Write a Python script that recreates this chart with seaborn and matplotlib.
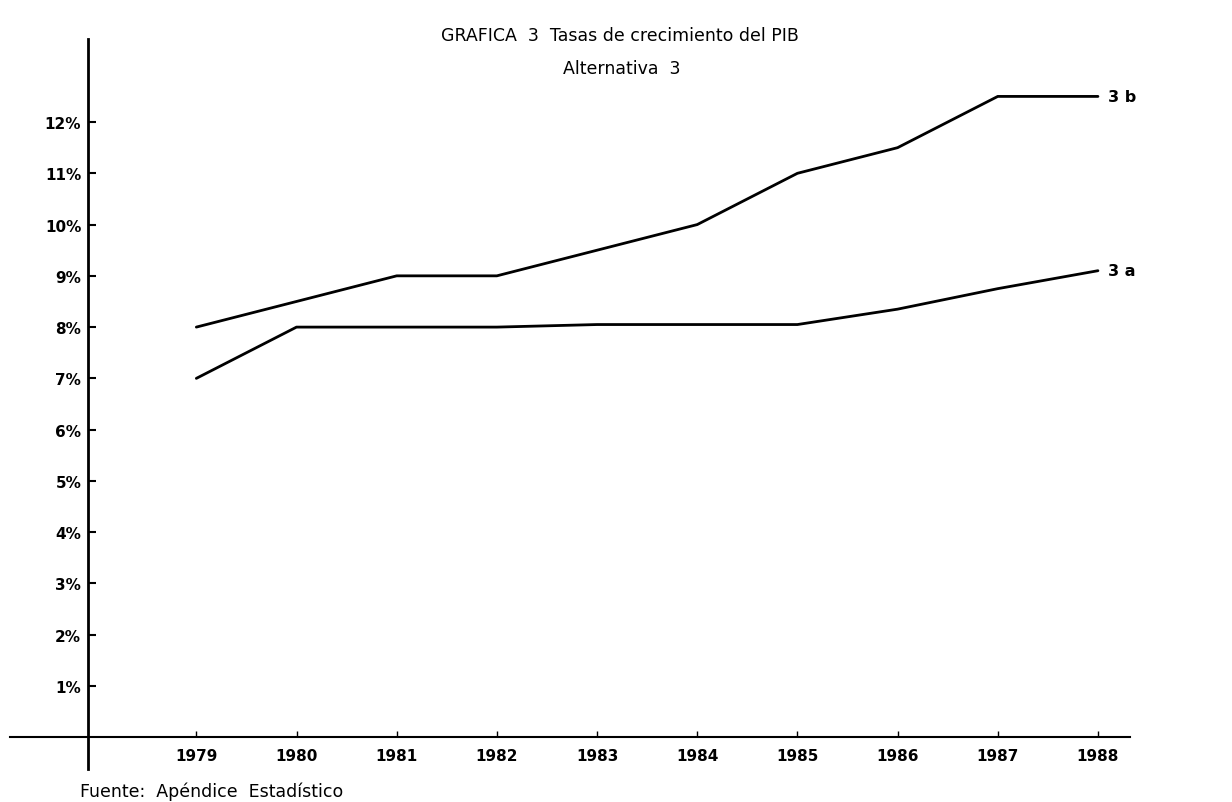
import matplotlib
matplotlib.use("Agg")
import matplotlib.pyplot as plt
import seaborn as sns
import pandas as pd

# datos
anios = [1979, 1980, 1981, 1982, 1983, 1984, 1985, 1986, 1987, 1988]
alt_3b = [8.0, 8.5, 9.0, 9.0, 9.5, 10.0, 11.0, 11.5, 12.5, 12.5]
alt_3a = [7.0, 8.0, 8.0, 8.0, 8.05, 8.05, 8.05, 8.35, 8.75, 9.1]
etiquetas_y = ["1%", "2%", "3%", "4%", "5%", "6%", "7%", "8%", "9%", "10%", "11%", "12%"]

df = pd.DataFrame({
    "anio": anios * 2,
    "tasa": alt_3b + alt_3a,
    "serie": ["3 b"] * len(anios) + ["3 a"] * len(anios),
})

sns.set_style("white")
plt.rcParams['font.family'] = ['DejaVu Sans']
plt.rcParams['text.color'] = 'black'
plt.rcParams['xtick.color'] = 'black'
plt.rcParams['ytick.color'] = 'black'

fig = plt.figure(figsize=(12.32, 8.03), dpi=100)
# ejes en pixeles: x 10..1130, y (desde arriba) 40..770
ax = fig.add_axes([10 / 1232, 1 - 770 / 803, 1120 / 1232, 730 / 803])

sns.lineplot(data=df, x="anio", y="tasa", units="serie", estimator=None,
             color="black", linewidth=2, ax=ax, legend=False)

ax.set_xlim(1977.14, 1988.32)
ax.set_ylim(-0.62, 13.62)

for s in ["top", "right"]:
    ax.spines[s].set_visible(False)
ax.spines["left"].set_position(("data", 1977.92))
ax.spines["bottom"].set_position(("data", 0))
ax.spines["left"].set_linewidth(2)
ax.spines["bottom"].set_linewidth(1.5)
ax.spines["left"].set_color("black")
ax.spines["bottom"].set_color("black")

ax.set_yticks(range(1, 13))
ax.set_yticklabels(etiquetas_y, fontweight="bold", fontsize=11)
ax.tick_params(axis="y", direction="in", length=6, width=1.5, pad=5, left=True)
ax.set_xticks(anios)
ax.set_xticklabels([str(a) for a in anios], fontweight="bold", fontsize=11)
ax.tick_params(axis="x", direction="in", length=4, width=1, pad=8, bottom=True)
ax.set_xlabel("")
ax.set_ylabel("")

# etiquetas de las series
ax.annotate("3 b", (anios[-1], alt_3b[-1]), xytext=(7, 0), textcoords="offset points",
            va="center", fontsize=11.5, fontweight="bold")
ax.annotate("3 a", (anios[-1], alt_3a[-1]), xytext=(7, 0), textcoords="offset points",
            va="center", fontsize=11.5, fontweight="bold")

fig.text(620 / 1232, 1 - 36 / 803, "GRAFICA  3  Tasas de crecimiento del PIB",
         ha="center", va="center", fontsize=12.5)
fig.text(622 / 1232, 1 - 69 / 803, "Alternativa  3",
         ha="center", va="center", fontsize=12.5)
fig.text(80 / 1232, 1 - 792 / 803, "Fuente:  Apéndice  Estadístico",
         ha="left", va="center", fontsize=12.5)

fig.savefig("out.png", dpi=100)
